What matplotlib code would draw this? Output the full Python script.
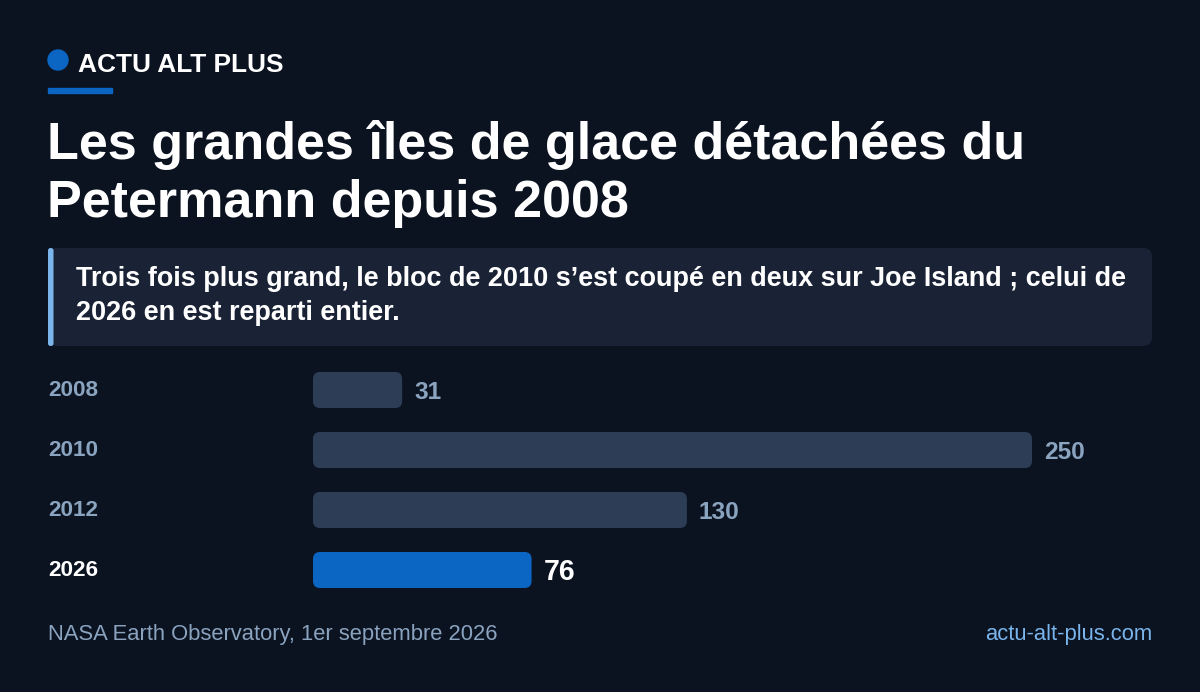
import matplotlib
matplotlib.use("Agg")
import matplotlib.pyplot as plt
from matplotlib.patches import FancyBboxPatch, Circle, Rectangle

# ---- data ----
years = ["2008", "2010", "2012", "2026"]
areas = [31, 250, 130, 76]
highlight = "2026"

brand = "ACTU ALT PLUS"
title_lines = ["Les grandes îles de glace détachées du", "Petermann depuis 2008"]
callout_lines = ["Trois fois plus grand, le bloc de 2010 s\u2019est coupé en deux sur Joe Island ; celui de",
                 "2026 en est reparti entier."]
source = "NASA Earth Observatory, 1er septembre 2026"
site = "actu-alt-plus.com"

# ---- style ----
BG = "#0b1220"
BOX = "#1a2336"
BAR = "#2e3d56"
BLUE = "#0a66c2"
LIGHT = "#7ab5ec"
MUTED = "#8aa3bf"
WHITE = "#ffffff"
FONT = "Liberation Sans"
W, H = 1200, 692

def px(p):  # pixel size -> points
    return p * 72 / 100

fig = plt.figure(figsize=(W / 100, H / 100), dpi=100, facecolor=BG)
over = fig.add_axes([0, 0, 1, 1])
over.set_xlim(0, W)
over.set_ylim(H, 0)
over.axis("off")
over.set_facecolor(BG)

# header
over.add_patch(Circle((58, 60), 10, color=BLUE))
over.text(78, 72, brand, fontsize=px(26.2), fontweight="bold", color=WHITE,
          family=FONT, va="baseline", ha="left")
over.add_patch(Rectangle((48, 88), 64, 4.5, color=BLUE))

# title
for i, line in enumerate(title_lines):
    over.text(47, 159 + i * 58, line, fontsize=px(52.1), fontweight="bold",
              color=WHITE, family=FONT, va="baseline", ha="left")

# callout
over.add_patch(FancyBboxPatch((48, 248), 1104, 98,
                              boxstyle="round,pad=0,rounding_size=9",
                              fc=BOX, ec="none"))
over.add_patch(FancyBboxPatch((48, 248), 5.5, 98,
                              boxstyle="round,pad=0,rounding_size=2.5",
                              fc=LIGHT, ec="none"))
for i, line in enumerate(callout_lines):
    over.text(76, 286 + i * 34, line, fontsize=px(27), fontweight="bold",
              color=WHITE, family=FONT, va="baseline", ha="left")

# footer
over.text(48, 640, source, fontsize=px(22), color=MUTED, family=FONT,
          va="baseline", ha="left")
over.text(1152, 640, site, fontsize=px(22), color=LIGHT, family=FONT,
          va="baseline", ha="right")

# ---- bar chart ----
x0, x1 = 313, 1032
y_top, y_bot = 360, 600
ax = fig.add_axes([x0 / W, 1 - y_bot / H, (x1 - x0) / W, (y_bot - y_top) / H])
ax.set_facecolor("none")
ax.set_xlim(0, max(areas))
ax.set_ylim(len(years) - 0.5, -0.5)
ax.axis("off")

colors = [BLUE if y == highlight else BAR for y in years]
bars = ax.barh(range(len(years)), areas, height=0.6, color=colors)

xunit_px = (x1 - x0) / max(areas)
yunit_px = (y_bot - y_top) / len(years)
r_px = 7
for b in bars:
    bx, by = b.get_x(), b.get_y()
    bw, bh = b.get_width(), b.get_height()
    fc = b.get_facecolor()
    b.set_visible(False)
    ax.add_patch(FancyBboxPatch((bx, by), bw, bh,
                                boxstyle=f"round,pad=0,rounding_size={r_px / xunit_px}",
                                mutation_aspect=xunit_px / yunit_px,
                                fc=fc, ec="none"))

for i, (yr, v) in enumerate(zip(years, areas)):
    hl = yr == highlight
    ax.text(v + 12 / xunit_px, i + 0.04, f"{v}", fontsize=px(28.5 if hl else 24.5),
            fontweight="bold", color=WHITE if hl else MUTED, family=FONT,
            va="center", ha="left", clip_on=False)
    ax.text(-(x0 - 48) / xunit_px, i, yr, fontsize=px(22.5), fontweight="bold",
            color=WHITE if hl else MUTED, family=FONT, va="center", ha="left",
            clip_on=False)

fig.savefig("out.png", dpi=100, facecolor=BG)
